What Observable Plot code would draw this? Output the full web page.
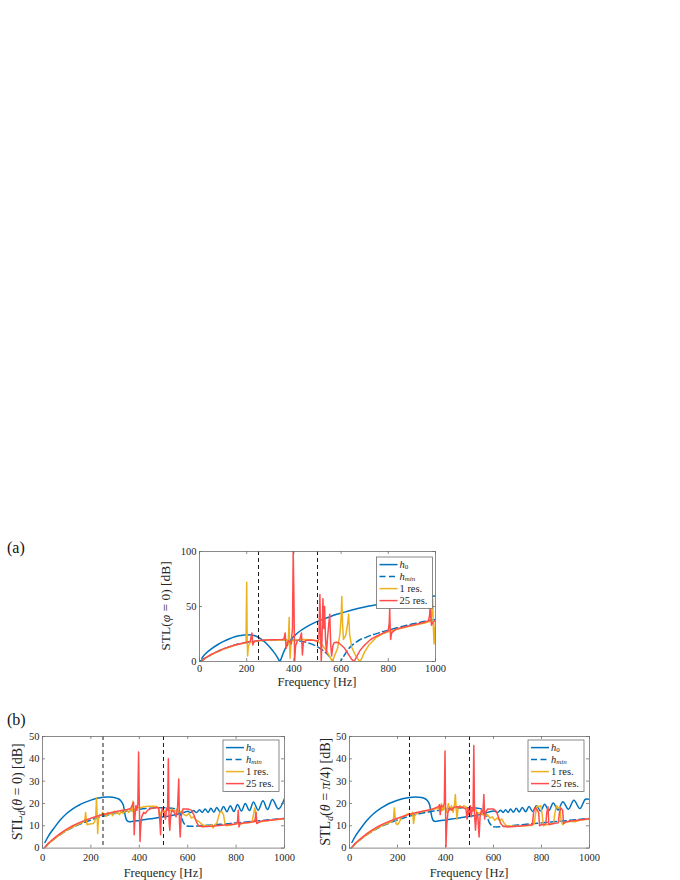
<!DOCTYPE html>
<html><head><meta charset="utf-8">
<script src="https://cdn.jsdelivr.net/npm/d3@7"></script>
<script src="https://cdn.jsdelivr.net/npm/@observablehq/plot@0.6"></script>
<style>
body{margin:0;background:#fff;}
#fig{position:relative;width:680px;height:880px;overflow:hidden;font-family:"Liberation Serif",serif;background:#fff;}
#fig svg{position:absolute;overflow:visible;}
#fig svg text{font-family:"Liberation Serif","DejaVu Serif",serif;}
.tag{position:absolute;font-size:16px;color:#111;line-height:1;}
</style></head><body><div id="fig"></div>
<script>
// ---------- data ----------
const xTicks = [0,200,400,600,800,1000];
const yTicksA = [0,50,100];
const yTicksB = [0,10,20,30,40,50];
const vLines = [250,500];
const legendLabels = ["h0","hmin","1 res.","25 res."];

// Panel (a): STL(phi=0)
const a_h0 = [[10,3],[25,7],[50,11.5],[75,15],[100,18],[125,20.5],[150,22.5],[175,23.7],[200,24.3],[220,24],[240,23],[260,20.5],[280,17],[300,12.5],[315,8.5],[328,4.5],[336,1.5],[340,0],[344,1.5],[352,6],[362,11],[375,16],[390,20.5],[405,24],[425,27.5],[450,31],[475,34],[500,36.5],[525,38.5],[550,40.5],[575,42.5],[600,44],[650,47],[700,49.5],[750,51.5],[800,53.5],[850,55.3],[900,57],[950,58.3],[1000,59.5]];
const a_hmin = [[0,0],[25,3.2],[50,6.3],[75,9],[100,11.3],[125,13.3],[150,15],[175,16.3],[200,17.3],[250,18.7],[300,19.5],[350,19.7],[400,19.3],[430,18.5],[460,17],[490,14.5],[510,12],[530,9],[545,6],[558,2.5],[568,0],[578,-3],[590,-2],[600,1],[612,5],[625,9.5],[640,13.5],[660,17],[680,19.8],[700,21.5],[730,24],[760,26],[800,28.5],[850,31.3],[900,34],[950,36.3],[1000,38.3]];
const a_res1 = [[10,0.3],[25,3],[50,6.2],[100,11],[150,14.7],[190,16.8],[197,18],[200,72],[202,20],[204,5],[207,14],[215,17.5],[250,18.8],[300,19.5],[350,19.8],[370,19.5],[376,16],[380,40],[382,12],[384,3],[387,14],[392,18.5],[400,19.5],[450,20],[480,19.5],[500,18.5],[520,15],[540,9],[555,3],[562,0],[570,4],[585,12],[595,25],[600,40],[603,59],[606,35],[610,20],[620,24],[628,35],[632,43],[636,25],[645,13],[660,6],[672,2],[680,0],[690,4],[700,9],[720,15.5],[750,22],[780,25.5],[800,27],[850,30],[900,32.5],[950,34.8],[980,36.5],[985,45],[988,57],[991,30],[994,16],[997,28],[1000,37]];
const a_res25 = [[10,0.5],[25,3.3],[50,6.5],[100,11.5],[150,15],[200,17.5],[215,18.3],[222,26],[226,15],[232,18.5],[250,19],[300,19.8],[350,20],[358,20.5],[363,26],[367,12],[372,17],[378,19],[388,16],[394,30],[397,100],[400,60],[403,0],[407,14],[415,19],[425,20],[432,26],[436,6],[440,17],[450,19],[470,19.5],[490,19],[500,18.5],[506,20],[510,61],[513,25],[516,0],[519,20],[523,57],[527,30],[530,50],[534,20],[538,8],[542,20],[548,35],[552,43],[556,15],[560,5],[565,14],[570,17],[580,17.5],[590,17],[600,15],[615,12],[630,7],[645,2],[655,0],[665,4],[680,10],[700,15],[725,20],[750,23],[780,26],[800,28],[804,35],[806,48],[808,30],[810,20],[814,26],[830,29],[850,30.5],[900,33],[950,35.5],[970,37],[975,42],[978,52],[980,40],[983,33],[990,36],[1000,37.5]];

// Panel (b) left: STL_d(theta=0)
const bl_h0 = [[10,2.5],[25,5.5],[50,9.3],[75,12.8],[100,15.5],[125,17.6],[150,19.2],[175,20.5],[200,21.5],[225,22.3],[250,22.8],[275,22.9],[300,22.6],[315,22],[325,21],[333,19.5],[338,17],[343,14],[348,12.5],[355,11.9],[375,12],[400,12.4],[425,12.8],[450,13.2],[475,13.6],[500,14],[525,14.4],[545,14.8],[560,15.3],[575,15.8],[590,16.2],[600,16.5],[612,15.9],[624,16.9],[636,15.9],[649,17.2],[660,16.0],[672,17.5],[684,16.0],[696,17.8],[708,16.1],[720,18.2],[734,16.2],[748,18.6],[762,16.3],[776,19.0],[791,16.4],[806,19.5],[822,16.6],[838,20.0],[855,16.8],[872,20.6],[891,17.0],[911,21.2],[930,17.3],[950,21.8],[975,17.5],[1000,22.2]];
const bl_hmin = [[10,0.3],[25,2],[50,4.2],[75,6.2],[100,7.9],[125,9.3],[150,10.5],[175,11.6],[200,12.6],[225,13.5],[250,14.3],[275,15],[300,15.6],[325,16.1],[350,16.6],[375,17],[400,17.4],[425,17.7],[450,17.9],[475,18.1],[500,18.1],[520,18],[540,17.8],[555,17.3],[565,16],[575,13.5],[585,11],[595,10],[610,9.8],[650,10],[700,10.4],[750,10.8],[800,11.3],[850,11.8],[900,12.3],[950,12.8],[1000,13.3]];
const bl_res1 = [[10,0.2],[25,2],[50,4.2],[75,6.2],[100,8],[125,9.5],[150,10.8],[170,11.8],[175,12.5],[178,16],[181,13],[184,10.5],[195,10.8],[210,11],[216,12],[220,14],[223,22.5],[226,14],[228,6.5],[231,13],[236,15],[242,14.5],[248,16],[253,14.8],[258,15.5],[264,14.2],[270,16],[276,15],[283,15.8],[290,14.5],[296,16.5],[303,15.3],[310,16],[318,15],[325,16.7],[333,15.5],[340,16.5],[348,17],[356,16],[363,17.5],[370,16.5],[374,21],[377,12],[380,17],[388,18.5],[400,18],[420,18.5],[440,18.8],[460,18.7],[475,18.5],[482,17],[486,12],[490,16],[497,17.5],[505,16],[515,17.5],[525,16.5],[535,17.5],[548,16.5],[556,17.5],[565,16],[575,16.5],[585,15],[595,14.5],[605,15.5],[615,13.5],[625,14],[635,12.5],[645,12],[655,11],[665,10.2],[690,9.8],[700,10.5],[705,9],[712,10.5],[720,11],[727,14],[733,16],[740,16.5],[748,15],[754,11],[760,10],[775,10.2],[790,10.6],[805,11],[815,10.5],[830,11.2],[850,11.4],[865,11.6],[872,15],[877,18],[882,16],[886,12],[890,11.5],[910,12],[930,12.2],[950,12.6],[970,12.8],[1000,13.1]];
const bl_res25 = [[10,0.3],[25,2.3],[50,4.6],[75,6.7],[100,8.5],[125,10],[150,11.3],[175,12.4],[200,13.4],[225,14.3],[250,15],[275,15.7],[300,16.3],[325,16.8],[350,17.3],[365,17.8],[372,19.5],[376,20.5],[379,6],[382,14],[386,19],[390,17],[394,20],[397,43],[400,20],[403,3],[406,10],[410,14],[418,16],[425,15.5],[435,17],[450,17.8],[470,18.2],[480,18],[485,12],[488,6],[491,15],[496,18],[502,16],[508,13],[513,18],[517,17],[520,40],[523,12],[526,8],[530,15],[535,17],[545,16],[552,14],[558,18],[563,31],[566,12],[569,5],[573,14],[580,17.5],[600,17.5],[615,17],[625,15],[635,12],[645,10],[660,9.6],[700,9.8],[750,10.3],[800,10.8],[806,12],[809,17],[812,9.5],[816,11],[850,11.5],[875,11.8],[879,13],[882,16],[885,11],[900,12],[950,12.6],[1000,13.3]];

// Panel (b) right: STL_d(theta=pi/4)
const br_h0 = [[10,2.5],[25,5.5],[50,9.3],[75,12.7],[100,15.4],[125,17.5],[150,19.1],[175,20.4],[200,21.4],[225,22.2],[250,22.7],[275,22.9],[300,22.7],[315,22.1],[325,21.2],[333,19.7],[338,17],[343,14],[348,12.5],[355,12],[375,12.2],[400,12.6],[425,13],[450,13.4],[475,13.8],[500,14.2],[525,14.6],[545,15],[560,15.5],[575,16],[590,16.4],[605,16.6],[617,15.9],[629,17.0],[640,16.0],[650,17.2],[661,16.0],[671,17.5],[683,16.1],[695,17.8],[707,16.2],[720,18.2],[734,16.3],[748,18.6],[763,16.4],[779,19.1],[796,16.6],[813,19.6],[831,16.8],[849,20.2],[869,17.1],[889,20.8],[912,17.4],[935,21.4],[960,17.7],[983,21.9],[1000,21.8]];
const br_hmin = [[10,0.3],[25,2],[50,4.2],[75,6.2],[100,7.9],[125,9.3],[150,10.5],[175,11.6],[200,12.6],[225,13.5],[250,14.3],[275,15],[300,15.6],[325,16.1],[350,16.6],[375,17],[400,17.4],[425,17.7],[450,17.9],[475,18.1],[500,18.1],[520,18],[540,17.8],[555,17.2],[565,16],[575,13.5],[585,11],[597,9.7],[610,9.5],[650,9.8],[700,10.3],[750,10.8],[800,11.3],[850,11.8],[900,12.3],[950,12.8],[1000,13.3]];
const br_res1 = [[10,0.2],[25,2],[50,4.2],[75,6.2],[100,8],[125,9.5],[150,10.8],[175,11.8],[183,12.8],[187,18],[190,14],[194,11],[200,10.5],[207,11.5],[213,13],[220,14],[230,14.5],[240,15.2],[250,15.5],[258,15],[263,16],[267,11],[271,14.5],[280,15.5],[290,16],[300,16.3],[315,16.6],[330,17],[345,17.4],[360,17.6],[372,18],[378,16],[383,20],[388,17],[395,18.5],[405,16],[412,20],[418,17],[425,19],[432,16],[438,20],[441,24],[445,17],[448,13],[452,18],[460,19],[468,18],[476,19],[485,18.5],[495,17],[505,18],[515,16.5],[525,17.5],[535,15.5],[545,16],[555,15],[565,14.5],[575,15],[585,13.5],[595,14],[605,12.5],[615,13.5],[625,12.5],[635,13],[645,11],[655,10],[700,9.8],[740,10],[760,10.2],[770,11],[776,16],[782,19],[790,18.5],[797,19],[803,15],[808,10],[820,10.5],[835,10.8],[850,11],[855,15],[862,19],[870,18],[877,18.5],[882,12],[888,10.5],[900,11.5],[920,12],[940,11.8],[960,12.5],[980,12.8],[1000,13]];
const br_res25 = [[10,0.3],[25,2.3],[50,4.6],[75,6.7],[100,8.5],[125,10],[150,11.3],[175,12.4],[200,13.4],[225,14.3],[250,15.1],[275,15.8],[300,16.4],[325,17],[350,17.6],[370,18.5],[375,19.5],[378,15],[382,19],[390,18.5],[395,20],[398,43.5],[400,20],[402,0.5],[405,10],[410,16],[418,18],[425,17],[435,18.3],[450,18.5],[470,18.3],[485,17.5],[490,13],[494,18],[498,15],[503,19],[507,14],[512,18],[515,17],[518,46],[521,15],[525,8],[530,16],[535,14],[540,5],[544,14],[550,17],[556,16],[560,24],[563,13],[567,16],[575,17.5],[600,17.5],[612,16.5],[620,14],[630,11],[640,9.8],[660,9.5],[700,9.8],[740,10.2],[762,10.5],[767,16],[772,18],[780,17.5],[788,16],[792,10],[800,10.5],[818,10.8],[822,16],[827,18.5],[831,10.5],[850,11],[870,11.3],[875,16],[880,18],[888,17],[892,11],[900,11.8],[950,12.5],[1000,13.2]];

// ---------- styles ----------
const FONT = '"Liberation Serif", "DejaVu Serif", serif';
const C = {h0:"#0072BD", hmin:"#0072BD", r1:"#EDB120", r25:"#FF4D4D"};
const legendStyle = [
  {color:C.h0, dash:null},
  {color:C.hmin, dash:"6,3.5"},
  {color:C.r1, dash:null},
  {color:C.r25, dash:null}
];

const fig = document.getElementById("fig");

function richText(sel, parts) {
  parts.forEach(p => {
    const t = sel.append("tspan").text(p.t);
    if (p.i) t.attr("font-style","italic");
    if (p.sub) t.attr("font-size", p.fs || "0.72em").attr("dy", p.dy);
    else if (p.dy) t.attr("dy", p.dy);
  });
}

function panel(cfg) {
  const {h0, hmin, r1, r25, yDomain, yTicks, left, top, W, H, ml, mb, ylabOff, xlabOff, tickPadX, ylabel, ylabSize, leg} = cfg;
  const mt = 8, mr = 8;
  const L = (d, opt) => Plot.lineY(d, {x: p => p[0], y: p => p[1], clip: true, strokeWidth: 1.5, strokeLinejoin:"round", ...opt});
  const svg = Plot.plot({
    width: W + ml + mr, height: H + mt + mb,
    marginLeft: ml, marginRight: mr, marginTop: mt, marginBottom: mb,
    x: {domain: [0, 1000]},
    y: {domain: yDomain},
    style: {fontFamily: FONT, fontSize: "10.5px", color: "#262626", background: "transparent", overflow: "visible"},
    marks: [
      L(h0, {stroke: C.h0, curve: "catmull-rom"}),
      L(hmin, {stroke: C.hmin, strokeDasharray: "6,3.5", curve: "catmull-rom"}),
      L(r1, {stroke: C.r1}),
      L(r25, {stroke: C.r25}),
      Plot.ruleX(vLines, {x: d => d, stroke: "#1a1a1a", strokeWidth: 1, strokeDasharray: "4,3"}),
      Plot.frame({stroke: "#6e6e6e", strokeWidth: 0.8}),
      Plot.ruleX(xTicks, {x: d => d, insetTop: H - 3, stroke: "#6e6e6e", strokeWidth: 0.8}),
      Plot.ruleX(xTicks, {x: d => d, insetBottom: H - 3, stroke: "#6e6e6e", strokeWidth: 0.8}),
      Plot.ruleY(yTicks, {y: d => d, insetRight: W - 3, stroke: "#6e6e6e", strokeWidth: 0.8}),
      Plot.ruleY(yTicks, {y: d => d, insetLeft: W - 3, stroke: "#6e6e6e", strokeWidth: 0.8}),
      Plot.axisX({ticks: xTicks, tickSize: 0, tickPadding: tickPadX, tickFormat: d => String(d), label: null}),
      Plot.axisY({ticks: yTicks, tickSize: 0, tickPadding: 3, tickFormat: d => String(d), label: null})
    ]
  });
  svg.style.left = (left - ml) + "px";
  svg.style.top = (top - mt) + "px";
  const g = d3.select(svg).append("g").attr("font-family", FONT).attr("fill", "#262626");
  // x label
  g.append("text").attr("x", ml + W / 2).attr("y", mt + H + xlabOff).attr("text-anchor", "middle")
    .attr("dy", "0.35em").attr("font-size", 12.5).text("Frequency [Hz]");
  // y label
  const yl = g.append("text").attr("transform", `translate(${ml - ylabOff},${mt + H / 2}) rotate(-90)`)
    .attr("text-anchor", "middle").attr("dy", "0.35em").attr("font-size", ylabSize);
  richText(yl, ylabel);
  // legend
  const bw = 56, bh = 51.5, step = 12;
  const x0 = ml + W - leg.gap - bw, y0 = mt + leg.top;
  g.append("rect").attr("x", x0).attr("y", y0).attr("width", bw).attr("height", bh)
    .attr("fill", "white").attr("stroke", "#6e6e6e").attr("stroke-width", 0.8);
  legendLabels.forEach((lab, i) => {
    const y = y0 + 7.6 + i * step;
    const s = legendStyle[i];
    g.append("line").attr("x1", x0 + 3).attr("x2", x0 + 21).attr("y1", y).attr("y2", y)
      .attr("stroke", s.color).attr("stroke-width", 1.5).attr("stroke-dasharray", s.dash);
    const t = g.append("text").attr("x", x0 + 23).attr("y", y).attr("dy", "0.32em")
      .attr("text-anchor", "start").attr("font-size", 10.5);
    if (lab === "h0") richText(t, [{t:"h", i:true}, {t:"0", sub:true, fs:"0.66em", dy:"1.1"}]);
    else if (lab === "hmin") richText(t, [{t:"h", i:true}, {t:"min", i:true, sub:true, fs:"0.66em", dy:"1.1"}]);
    else t.text(lab);
  });
  fig.appendChild(svg);
}

panel({h0: a_h0, hmin: a_hmin, r1: a_res1, r25: a_res25, yDomain: [0, 100], yTicks: yTicksA,
  left: 199.3, top: 551, W: 236, H: 110, ml: 42, mb: 40, ylabOff: 34, xlabOff: 21, tickPadX: 3, ylabSize: 13.5,
  ylabel: [{t:"STL("}, {t:"φ", i:true}, {t:" = 0) [dB]"}], leg: {gap: 2.5, top: 6}});
panel({h0: bl_h0, hmin: bl_hmin, r1: bl_res1, r25: bl_res25, yDomain: [0, 50], yTicks: yTicksB,
  left: 42.3, top: 735.7, W: 242, H: 111.6, ml: 42, mb: 34, ylabOff: 25, xlabOff: 25.5, tickPadX: 5.5, ylabSize: 14,
  ylabel: [{t:"STL"}, {t:"d", i:true, sub:true, dy:"3"}, {t:"(", dy:"-3"}, {t:"θ", i:true}, {t:" = 0) [dB]"}], leg: {gap: 5, top: 4}});
panel({h0: br_h0, hmin: br_hmin, r1: br_res1, r25: br_res25, yDomain: [0, 50], yTicks: yTicksB,
  left: 349.3, top: 735.7, W: 240, H: 111.6, ml: 42, mb: 34, ylabOff: 24, xlabOff: 25.5, tickPadX: 5.5, ylabSize: 14,
  ylabel: [{t:"STL"}, {t:"d", i:true, sub:true, dy:"3"}, {t:"(", dy:"-3"}, {t:"θ", i:true}, {t:" = "}, {t:"π", i:true}, {t:"/4) [dB]"}], leg: {gap: 5, top: 4}});

// panel tags
[["(a)", 7, 540], ["(b)", 7, 712]].forEach(([s, x, y]) => {
  const d = document.createElement("div");
  d.className = "tag"; d.textContent = s;
  d.style.left = x + "px"; d.style.top = y + "px";
  fig.appendChild(d);
});
</script></body></html>
